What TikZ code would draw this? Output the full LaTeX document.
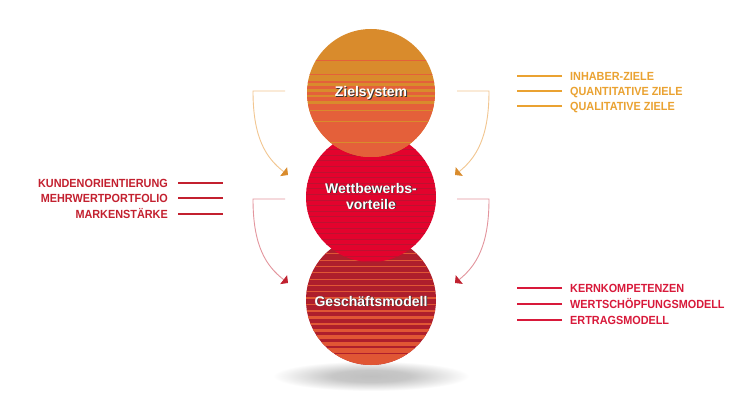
\documentclass[tikz,border=0pt]{standalone}
\usepackage{fontspec}
\setmainfont{Liberation Sans}
\newfontfamily\labfont[FakeStretch=0.92]{Liberation Sans}
\usetikzlibrary{arrows.meta}
\definecolor{zorange}{HTML}{D98B2C}
\definecolor{zred}{HTML}{E4603A}
\definecolor{wred}{HTML}{E3032D}
\definecolor{wdark}{HTML}{BC1230}
\definecolor{gdark}{HTML}{AE1E2C}
\definecolor{glight}{HTML}{E05634}
\definecolor{laborange}{HTML}{EAA231}
\definecolor{labred}{HTML}{C3202F}
\definecolor{labredb}{HTML}{D8193A}
\definecolor{arrlo}{HTML}{F2C690}
\definecolor{arrho}{HTML}{D98B2C}
\definecolor{arrlr}{HTML}{E3959D}
\definecolor{arrhr}{HTML}{C0202F}
\pgfdeclareradialshading{shadowsh}{\pgfpoint{0bp}{0bp}}{color(0bp)=(black!25); color(10bp)=(black!22); color(25bp)=(white); color(50bp)=(white)}
\tikzset{
  circtext/.style={font=\bfseries\fontsize{14}{16}\selectfont, text=white, align=center, inner sep=0pt},
  circshadow/.style={circtext, text=black!80},
  labtext/.style={font=\labfont\bfseries\fontsize{11.8}{12}\selectfont, text height=8.5pt, text depth=0pt, inner sep=0pt},
  labline/.style={line width=2.5pt},
  arrO/.style={line width=0.9pt, draw=arrlo, -{Triangle[length=5.5pt,width=11pt,color=arrho]}},
  arrR/.style={line width=0.9pt, draw=arrlr, -{Triangle[length=5.5pt,width=11pt,color=arrhr]}}
}
\begin{document}
\begin{tikzpicture}[x=1pt,y=-1pt]
\fill[white] (0,0) rectangle (742,417);
\useasboundingbox (0,0) rectangle (742,417);
% shadow
\shade[shading=shadowsh] (371,376) ellipse [x radius=98pt, y radius=15pt];
% bottom circle
\begin{scope}
\clip (371,300) circle [radius=65pt];
\fill[gdark] (300,230) rectangle (440,370);
\foreach \i in {0,...,18} {
  \pgfmathsetmacro{\ys}{247+\i*6.3}
  \pgfmathsetmacro{\sw}{0.7+5.4*((\i/17)^2.6)}
  \fill[glight] (300,\ys) rectangle (440,\ys+\sw);
}
\end{scope}
% middle circle
\begin{scope}
\clip (371,197) circle [radius=65pt];
\fill[wred] (300,130) rectangle (440,265);
\foreach \i in {0,...,22} {
  \pgfmathsetmacro{\ys}{138+\i*5.6}
  \fill[wdark] (300,\ys) rectangle (440,\ys+1);
}
\end{scope}
% top circle
\begin{scope}
\clip (371,93) circle [radius=64pt];
\fill[zorange] (300,25) rectangle (440,160);
\fill[zred] (300,104) rectangle (440,160);
\foreach \ys/\sw in {60/1, 74/1.3, 81/2, 86.5/3, 92/3.5, 97/4.2} {
  \fill[zred] (300,\ys) rectangle (440,\ys+\sw);
}
\foreach \ys/\sw in {110/1.5, 121/1.5, 142/1.5} {
  \fill[zorange] (300,\ys) rectangle (440,\ys+\sw);
}
\end{scope}
% circle texts
\node[circshadow] at (371.9,93.9) {Zielsystem};
\node[circtext] (ziel) at (371,93) {Zielsystem};
\node[circshadow] at (371.9,196.9) {Wettbewerbs-\\vorteile};
\node[circtext] (wett) at (371,196) {Wettbewerbs-\\vorteile};
\node[circshadow] at (371.9,301.9) {Geschäftsmodell};
\node[circtext] (gesch) at (371,301) {Geschäftsmodell};
% arrows
\coordinate (a1s) at (285,91);  \coordinate (a1e) at (288,175);
\coordinate (a2s) at (457,91);  \coordinate (a2e) at (455,175);
\coordinate (a3s) at (285,199); \coordinate (a3e) at (288,283);
\coordinate (a4s) at (457,199); \coordinate (a4e) at (455,283);
\draw[arrO] (a1s) -- (253,91) .. controls (253,138) and (266,158) .. (a1e);
\draw[arrO] (a2s) -- (489,91) .. controls (489,138) and (476,158) .. (a2e);
\draw[arrR] (a3s) -- (253,199) .. controls (253,246) and (266,266) .. (a3e);
\draw[arrR] (a4s) -- (489,199) .. controls (489,246) and (476,266) .. (a4e);
% right top labels
\node[labtext, anchor=west, text=laborange] (inh) at (570,76) {INHABER-ZIELE};
\node[labtext, anchor=west, text=laborange] (quan) at (570,91) {QUANTITATIVE ZIELE};
\node[labtext, anchor=west, text=laborange] (qual) at (570,106) {QUALITATIVE ZIELE};
\foreach \n in {inh,quan,qual} {
  \draw[labline, laborange] ([xshift=-8pt]\n.west) -- ++(-45pt,0pt);
}
% left labels
\node[labtext, anchor=east, text=labred] (kund) at (168,183) {KUNDENORIENTIERUNG};
\node[labtext, anchor=east, text=labred] (mehr) at (168,198) {MEHRWERTPORTFOLIO};
\node[labtext, anchor=east, text=labred] (mark) at (168,214) {MARKENSTÄRKE};
\foreach \n in {kund,mehr,mark} {
  \draw[labline, labred] ([xshift=10pt]\n.east) -- ++(45pt,0pt);
}
% right bottom labels
\node[labtext, anchor=west, text=labredb] (kern) at (570,288) {KERNKOMPETENZEN};
\node[labtext, anchor=west, text=labredb] (wert) at (570,304) {WERTSCHÖPFUNGSMODELL};
\node[labtext, anchor=west, text=labredb] (ertr) at (570,320) {ERTRAGSMODELL};
\foreach \n in {kern,wert,ertr} {
  \draw[labline, labredb] ([xshift=-8pt]\n.west) -- ++(-45pt,0pt);
}
\end{tikzpicture}
\end{document}
